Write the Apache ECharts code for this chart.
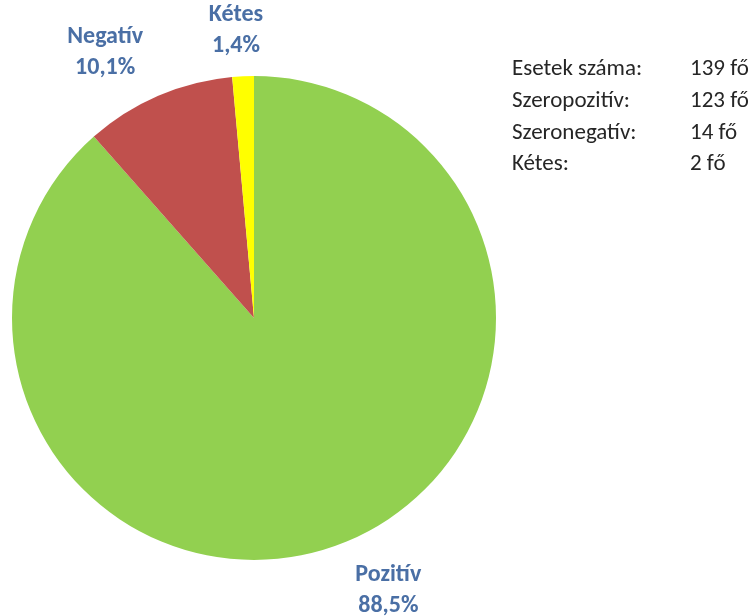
<!DOCTYPE html>
<html>
<head>
<meta charset="utf-8">
<script src="https://cdn.jsdelivr.net/npm/echarts@6/dist/echarts.min.js"></script>
<style>
  html, body { margin: 0; padding: 0; background: #ffffff; }
  #chart { width: 753px; height: 616px; }
</style>
</head>
<body>
<div id="chart"></div>
<script>
// Szerológiai eredmények megoszlása
const categories = ['Pozitív', 'Negatív', 'Kétes'];
const counts = [123, 14, 2];
const sliceColors = ['#92d050', '#c0504d', '#ffff00'];

// Összesítő táblázat a jobb felső sarokban
const statLabels = ['Esetek száma:', 'Szeropozitív:', 'Szeronegatív:', 'Kétes:'];
const statValues = ['139 fő', '123 fő', '14 fő', '2 fő'];

const FONT = 'Carlito, Lato, "Liberation Sans", sans-serif';
const LABEL_COLOR = '#4a6fa5';

const pieCenter = [254, 318];
const pieRadius = 242;
// label placement around the pie: distance from the centre and an angular nudge (degrees)
const labelDistance = [304, 304, 288];
const labelNudge = [-5.5, -6, -1];

const total = counts.reduce((a, b) => a + b, 0);

function pct(v) {
  return (v / total * 100).toFixed(1).replace('.', ',') + '%';
}

function midAngle(idx) {
  let before = 0;
  for (let i = 0; i < idx; i++) before += counts[i];
  return (before + counts[idx] / 2) / total * 360; // clockwise from 12 o'clock
}

const chart = echarts.init(document.getElementById('chart'), null, { renderer: 'canvas' });

const graphicTexts = [];
statLabels.forEach((t, i) => {
  graphicTexts.push({
    type: 'text', left: 512, top: 58 + i * 31.7,
    style: { text: t, font: '23px ' + FONT, fill: '#262626' }
  });
  graphicTexts.push({
    type: 'text', left: 690, top: 58 + i * 31.7,
    style: { text: statValues[i], font: '23px ' + FONT, fill: '#262626' }
  });
});

chart.setOption({
  backgroundColor: '#ffffff',
  animation: false,
  graphic: graphicTexts,
  series: [{
    type: 'pie',
    center: pieCenter,
    radius: pieRadius,
    startAngle: 90,
    clockwise: true,
    avoidLabelOverlap: false,
    data: categories.map((c, i) => ({
      name: c, value: counts[i], itemStyle: { color: sliceColors[i] }
    })),
    itemStyle: { borderColor: 'transparent', borderWidth: 0 },
    label: {
      show: true,
      position: 'outside',
      formatter: p => p.name + '\n' + pct(p.value),
      fontFamily: FONT,
      fontSize: 24,
      fontWeight: 'bold',
      lineHeight: 31,
      color: LABEL_COLOR,
      align: 'center'
    },
    labelLine: { show: false },
    labelLayout: function (params) {
      const i = params.dataIndex;
      const a = (midAngle(i) + labelNudge[i]) * Math.PI / 180;
      const d = labelDistance[i];
      return {
        x: pieCenter[0] + d * Math.sin(a),
        y: pieCenter[1] - d * Math.cos(a),
        align: 'center',
        verticalAlign: 'middle'
      };
    }
  }]
});
</script>
</body>
</html>
